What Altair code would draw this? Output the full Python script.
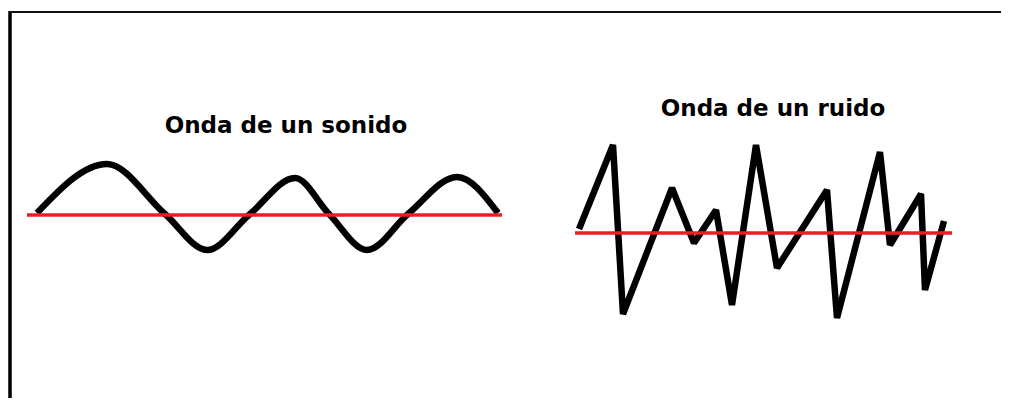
import altair as alt
import pandas as pd

W, H = 993, 390

# Smooth "sound" wave: key points (start, peaks, crossings, troughs, end)
sine_x = [29, 99, 157, 199, 242, 287, 321, 359, 400, 449, 490]
sine_y = [185, 234, 184, 148, 184, 220, 184, 148, 184, 221, 185]

# Jagged "noise" wave vertices
noise_x = [571, 605, 615, 664, 686, 708, 724, 748, 769, 819, 829, 872, 882, 913, 917, 936]
noise_y = [169, 253, 84, 210, 155, 188, 93, 253, 130, 208, 80, 246, 153, 204, 108, 177]

# Red reference (zero) lines
axis_x1 = [19, 567]
axis_x2 = [494, 944]
axis_y = [183, 165]

# Titles
titles = ["Onda de un sonido", "Onda de un ruido"]
title_x = [278, 765]
title_y = [265, 282]

xs = alt.Scale(domain=[0, W], nice=False, zero=False)
ys = alt.Scale(domain=[0, H], nice=False, zero=False)

sine_df = pd.DataFrame({"x": sine_x, "y": sine_y, "o": range(len(sine_x))})
noise_df = pd.DataFrame({"x": noise_x, "y": noise_y, "o": range(len(noise_x))})
axis_df = pd.DataFrame({"x": axis_x1, "x2": axis_x2, "y": axis_y})
title_df = pd.DataFrame({"t": titles, "x": title_x, "y": title_y})

sine = alt.Chart(sine_df).mark_line(
    interpolate="monotone", color="black", strokeWidth=6.5, strokeCap="butt", clip=False
).encode(
    x=alt.X("x:Q", scale=xs, axis=None),
    y=alt.Y("y:Q", scale=ys, axis=None),
    order="o:Q",
)

noise = alt.Chart(noise_df).mark_line(
    interpolate="linear", color="black", strokeWidth=6.5, strokeJoin="bevel", strokeCap="butt", clip=False
).encode(
    x=alt.X("x:Q", scale=xs, axis=None),
    y=alt.Y("y:Q", scale=ys, axis=None),
    order="o:Q",
)

axes = alt.Chart(axis_df).mark_rule(color="#ed1c24", strokeWidth=3.5).encode(
    x=alt.X("x:Q", scale=xs, axis=None),
    x2="x2:Q",
    y=alt.Y("y:Q", scale=ys, axis=None),
)

text = alt.Chart(title_df).mark_text(
    font="DejaVu Sans", fontWeight="bold", fontSize=23, color="black",
    align="center", baseline="alphabetic",
).encode(
    x=alt.X("x:Q", scale=xs, axis=None),
    y=alt.Y("y:Q", scale=ys, axis=None),
    text="t:N",
)

frame_left = alt.Chart(title_df).mark_rule(color="black", strokeWidth=3).encode(
    x=alt.value(2), y=alt.value(3), y2=alt.value(H)
)
frame_top = alt.Chart(title_df).mark_rule(color="#111111", strokeWidth=2).encode(
    x=alt.value(1), x2=alt.value(W), y=alt.value(4)
)

chart = alt.layer(frame_left, frame_top, sine, noise, axes, text).properties(
    width=W, height=H,
    autosize=alt.AutoSizeParams(type="none"),
    padding=0,
).configure_view(stroke=None)

chart.save("out.html", embed_options={"renderer": "svg", "actions": False})
